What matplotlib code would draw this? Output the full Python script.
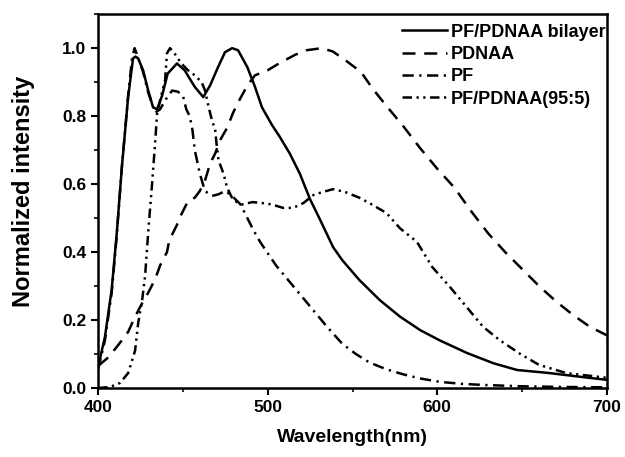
import matplotlib
matplotlib.use("Agg")
import matplotlib.pyplot as plt
from matplotlib.ticker import MultipleLocator

plt.rcParams['font.family'] = ['Liberation Sans', 'DejaVu Sans']
plt.rcParams['font.weight'] = 'bold'

# PF/PDNAA bilayer (solid)
bilayer_x = [400, 404, 408, 411, 414, 417.7, 420.6, 422, 423.6, 426.5, 429.5, 432.4, 434.8, 437.7, 441, 446.5, 451, 457, 462, 466,
             470.7, 474.8, 479, 482.5, 488, 492.5, 496.6, 502.5, 507, 513, 519, 525, 531, 538.5, 544, 554, 566, 578, 590, 601.5,
             617.5, 633, 647, 666, 686, 700]
bilayer_y = [0.062, 0.15, 0.29, 0.456, 0.65, 0.856, 0.97, 0.975, 0.97, 0.935, 0.876, 0.826, 0.82, 0.86, 0.925, 0.955, 0.935, 0.886, 0.856, 0.89,
             0.944, 0.988, 1.0, 0.994, 0.944, 0.886, 0.826, 0.774, 0.74, 0.69, 0.63, 0.555, 0.494, 0.415, 0.376, 0.318, 0.259, 0.21, 0.17, 0.14,
             0.103, 0.073, 0.053, 0.044, 0.032, 0.024]

# PDNAA (dashed)
pdnaa_x = [400, 406, 411.8, 417.7, 421.8, 426, 429.5, 433.6, 436.5, 440.6, 442, 446.5, 449, 453, 457, 460, 463, 466, 469, 472, 476,
           479.6, 482.5, 488, 492.5, 500, 507, 516, 523, 532, 538.5, 547, 555, 562, 570, 580, 590, 600, 610, 620, 630, 640, 650,
           660, 670, 680, 690, 700]
pdnaa_y = [0.065, 0.09, 0.126, 0.165, 0.21, 0.25, 0.28, 0.32, 0.36, 0.40, 0.435, 0.48, 0.51, 0.55, 0.56, 0.58, 0.61, 0.66, 0.69, 0.73, 0.765,
           0.81, 0.84, 0.89, 0.92, 0.935, 0.956, 0.98, 0.994, 1.0, 0.99, 0.96, 0.93, 0.88, 0.83, 0.77, 0.705, 0.645, 0.59, 0.52, 0.455, 0.40, 0.35,
           0.30, 0.255, 0.215, 0.18, 0.155]

# PF (dash-dot)
pf_x = [400, 404, 408, 411, 414, 417.7, 420, 421.5, 423, 426.5, 429.5, 433.6, 436.5, 440, 443.6, 447, 450, 452, 454, 455.6, 457, 460,
        463, 467, 471, 475, 479, 484, 488, 491, 495.5, 505, 515, 525, 535, 544, 552, 560, 570, 580, 590, 601.5, 615, 627, 650, 675, 700]
pf_y = [0.055, 0.14, 0.28, 0.45, 0.65, 0.86, 0.97, 1.0, 0.98, 0.93, 0.87, 0.81, 0.82, 0.85, 0.875, 0.872, 0.86, 0.82, 0.80, 0.76, 0.70, 0.63,
        0.58, 0.565, 0.57, 0.58, 0.565, 0.54, 0.50, 0.47, 0.43, 0.36, 0.30, 0.24, 0.18, 0.13, 0.10, 0.075, 0.055, 0.04, 0.028, 0.018, 0.012,
        0.009, 0.005, 0.003, 0.002]

# PF/PDNAA(95:5) (dash-dot-dot)
blend_x = [400, 407, 413, 417.7, 421.8, 423.6, 426, 427.7, 429.5, 431.8, 433.6, 434.8, 437.7, 439.5, 440.6, 442.4, 445, 449, 453, 457,
           461, 463, 465, 467, 469, 470, 471, 474, 476, 479.6, 485, 491, 497, 502.5, 509, 515, 521, 527, 532.6, 538.5, 545.5, 554,
           560, 570, 578, 588, 597, 607, 617, 627, 637, 649, 660, 676, 700]
blend_y = [0.0, 0.003, 0.015, 0.044, 0.11, 0.19, 0.26, 0.33, 0.456, 0.60, 0.72, 0.81, 0.87, 0.906, 0.985, 1.0, 0.985, 0.955, 0.935, 0.92,
           0.90, 0.876, 0.83, 0.79, 0.76, 0.71, 0.67, 0.63, 0.59, 0.553, 0.54, 0.547, 0.544, 0.54, 0.53, 0.53, 0.544, 0.568, 0.577, 0.585, 0.577, 0.56,
           0.544, 0.515, 0.47, 0.43, 0.356, 0.30, 0.24, 0.18, 0.14, 0.10, 0.068, 0.044, 0.03]

fig = plt.figure(figsize=(6.25, 4.57), dpi=100)
ax = fig.add_axes([0.157, 0.151, 0.814, 0.818])

ax.plot(bilayer_x, bilayer_y, color='black', lw=1.8, ls='-', label='PF/PDNAA bilayer')
ax.plot(pdnaa_x, pdnaa_y, color='black', lw=1.8, ls=(0, (5.2, 3.5)), label='PDNAA')
ax.plot(pf_x, pf_y, color='black', lw=1.8, ls=(0, (4.5, 2.2, 0.9, 2.2)), label='PF')
ax.plot(blend_x, blend_y, color='black', lw=1.8, ls=(0, (3.8, 1.8, 0.9, 1.8, 0.9, 1.8)), label='PF/PDNAA(95:5)')

ax.set_xlim(400, 700)
ax.set_ylim(0, 1.1)
ax.xaxis.set_major_locator(MultipleLocator(100))
ax.xaxis.set_minor_locator(MultipleLocator(50))
ax.yaxis.set_major_locator(MultipleLocator(0.2))
ax.yaxis.set_minor_locator(MultipleLocator(0.1))
ax.yaxis.set_major_formatter(plt.FormatStrFormatter('%.1f'))
ax.tick_params(which='major', direction='out', length=5, width=1.5, labelsize=12.5)
ax.tick_params(which='minor', direction='out', length=3, width=1.2)
for s in ax.spines.values():
    s.set_linewidth(1.8)

ax.set_xlabel('Wavelength(nm)', fontsize=14, fontweight='bold', labelpad=10)
ax.set_ylabel('Normalized intensity', fontsize=17, fontweight='bold')
ax.yaxis.set_label_coords(-0.125, 0.527)

ax.legend(loc='upper left', bbox_to_anchor=(0.597, 0.975), frameon=False, handlelength=2.5, handletextpad=0.2,
          labelspacing=0.3, borderaxespad=0, borderpad=0, prop={'weight': 'bold', 'size': 13})

fig.savefig('out.png', dpi=100)
